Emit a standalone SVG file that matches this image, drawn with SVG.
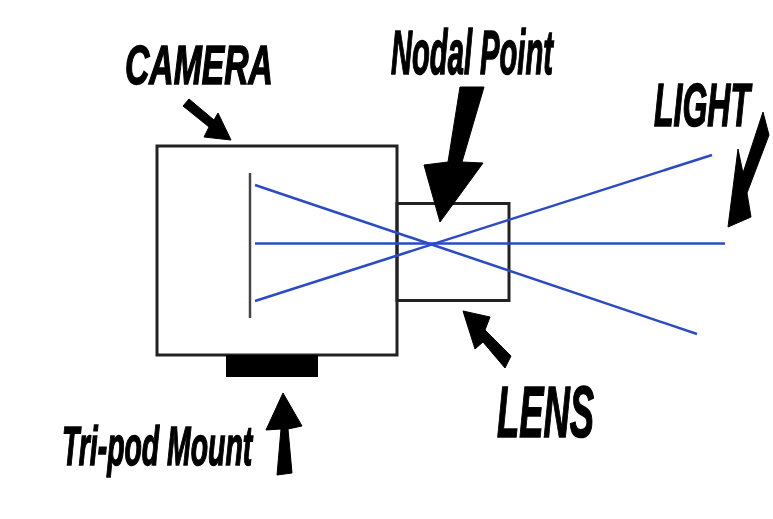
<svg xmlns="http://www.w3.org/2000/svg" width="773" height="519" viewBox="0 0 773 519">
<style>
.box{fill:none;stroke:#222;stroke-width:3}
.ray{fill:none;stroke:#2a4cc4;stroke-width:2.500}
.arrow{fill:#000;stroke:#000;stroke-width:1}
.label{font-family:"Liberation Sans",Arial,sans-serif;font-weight:bold;font-style:italic;fill:#000;stroke:#000;stroke-width:1.600}
</style>
<defs><filter id="soft" x="-5%" y="-5%" width="110%" height="110%"><feGaussianBlur stdDeviation="0.5"/></filter></defs>
<rect width="773" height="519" fill="#fff"/>
<g filter="url(#soft)">
<g id="camera"><rect class="box" x="157" y="146" width="240" height="209"/><line x1="250" y1="173" x2="250" y2="318" stroke="#444" stroke-width="2.500"/></g>
<g id="lens"><rect class="box" x="397" y="203.500" width="112" height="97"/></g>
<g id="mount"><rect x="226" y="355" width="92" height="22" fill="#000"/></g>
<g id="connectors">
<line class="ray" x1="255" y1="185" x2="697" y2="334"/>
<line class="ray" x1="255" y1="243.500" x2="725" y2="243.500"/>
<line class="ray" x1="255" y1="301" x2="712" y2="155"/>
<polygon class="arrow" points="183,106 189,99 214,120 218,113 231,140 204,137 209,127"/>
<polygon class="arrow" points="460,87 484,87 462,162 483,163 440,222 424,165 448,162"/>
<polygon class="arrow" points="763,112 769,135 747,193 751,217 728,227 738,149 743,173"/>
<polygon class="arrow" points="463,311 490,317 485,330 511,356 505,368 483,342 475,349"/>
<polygon class="arrow" points="283,393 302,426 288,429 292,473 277,475 281,429 266,430"/>
</g>
<g id="label-camera"><text class="label" transform="translate(125 84) scale(.602 1)" font-size="56">CAMERA</text></g>
<g id="label-nodal"><text class="label" transform="translate(391 74) scale(.463 1)" font-size="63">Nodal Point</text></g>
<g id="label-light"><text class="label" transform="translate(654 126) scale(.516 1)" font-size="62">LIGHT</text></g>
<g id="label-lens"><text class="label" transform="translate(497 437) scale(.505 1)" font-size="72">LENS</text></g>
<g id="label-tripod"><text class="label" transform="translate(62 465) scale(.507 1)" font-size="56">Tri-pod Mount</text></g>
</g>
</svg>
